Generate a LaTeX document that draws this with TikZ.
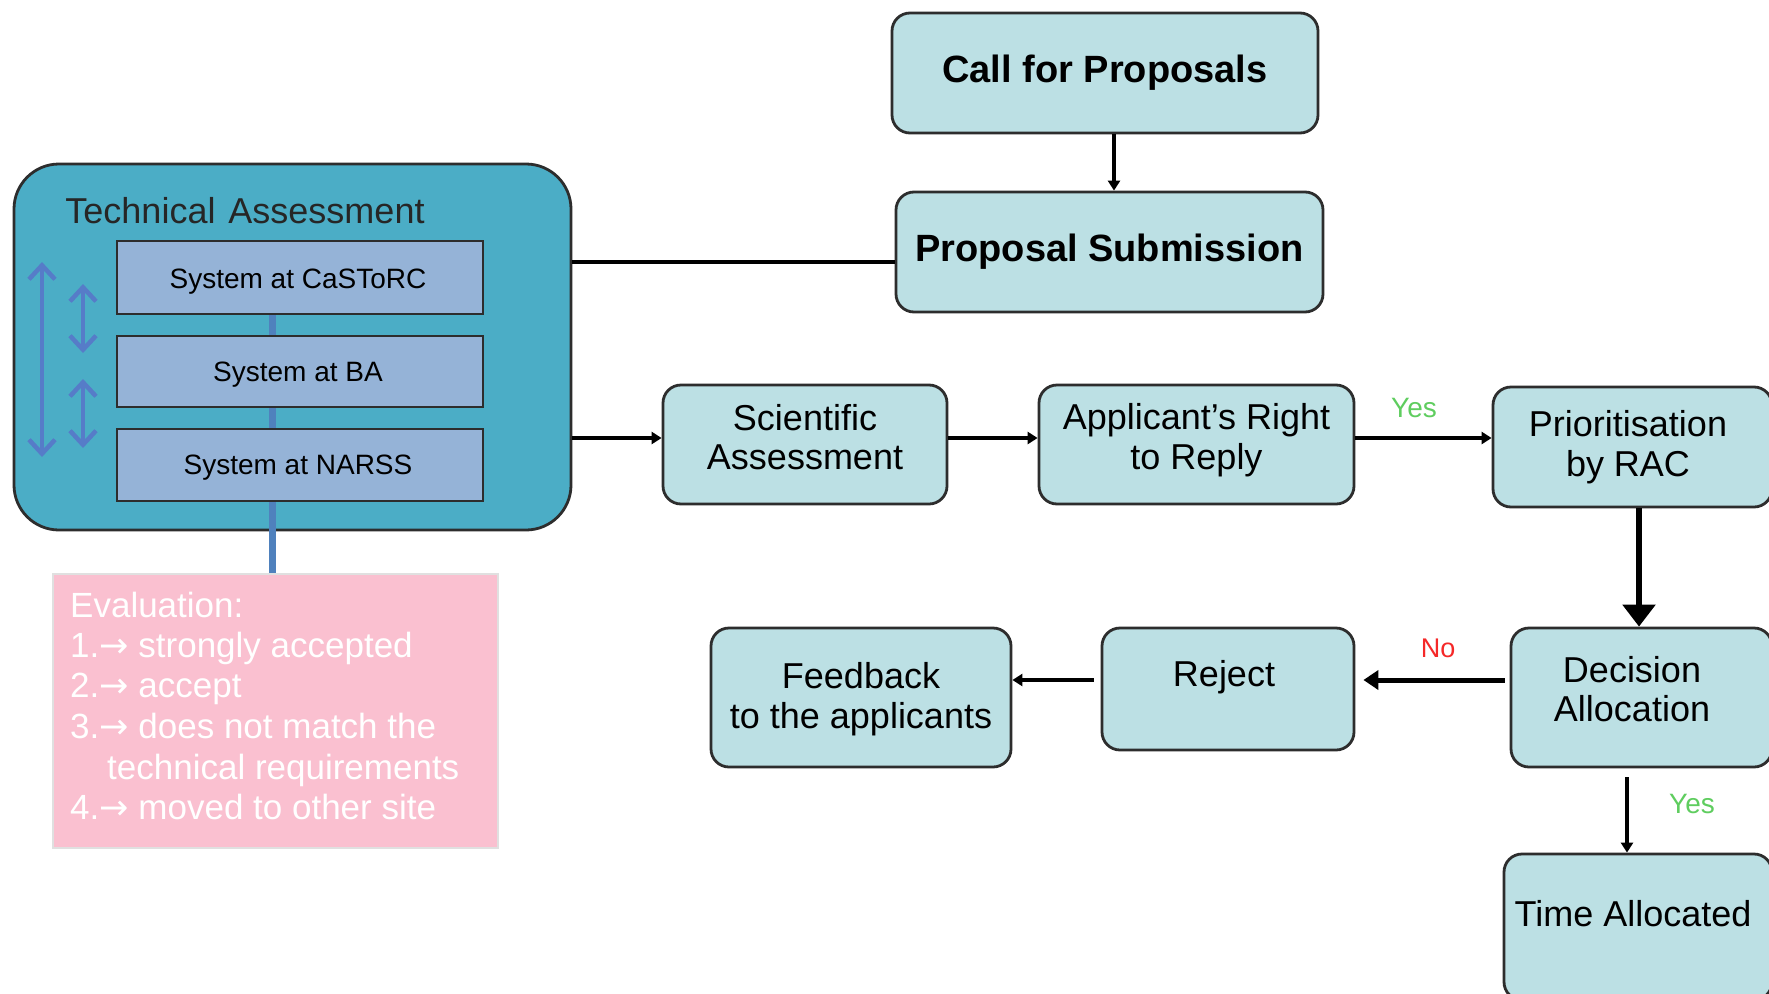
\documentclass[tikz,border=0pt]{standalone}
\usepackage{fontspec}
\setmainfont{Liberation Sans}
\newfontfamily\dvfont{DejaVu Sans}
\usetikzlibrary{arrows.meta}
\definecolor{boxfill}{RGB}{188,224,228}
\definecolor{tafill}{RGB}{75,173,198}
\definecolor{sysfill}{RGB}{149,179,215}
\definecolor{pinkfill}{RGB}{250,192,208}
\definecolor{vblue}{RGB}{79,129,189}
\definecolor{ablue}{RGB}{86,124,200}
\definecolor{yesgreen}{RGB}{95,205,95}
\definecolor{nored}{RGB}{245,40,40}
\definecolor{edge}{RGB}{45,45,45}
\tikzset{
  flow/.style={draw=edge,line width=2.8pt,fill=boxfill,rounded corners=18pt,inner sep=0pt,align=center,font=\fontsize{36}{39.5}\selectfont},
  sysbox/.style={draw=edge,line width=2.6pt,fill=sysfill,inner sep=0pt,minimum width=366pt},
  systext/.style={inner sep=0pt,font=\fontsize{28}{32}\selectfont},
  flowtext/.style={inner sep=0pt,align=center,font=\fontsize{36}{39.5}\selectfont},
  conn/.style={line width=3.2pt,-{Triangle[length=10pt,width=12pt]}},
  bigconn/.style={line width=6pt,-{Triangle[length=22pt,width=32pt]}},
  midconn/.style={line width=5pt,-{Triangle[length=15pt,width=19pt]}},
  dbl/.style={draw=ablue,line width=4.5pt,{Straight Barb[length=14pt,width=26pt]}-{Straight Barb[length=14pt,width=26pt]}},
  evtext/.style={anchor=base west,inner sep=0pt,text=white,font=\fontsize{35}{40}\selectfont},
  yes/.style={text=yesgreen,font=\fontsize{28}{32}\selectfont,inner sep=0pt},
  nolab/.style={text=nored,font=\fontsize{27}{32}\selectfont,inner sep=0pt}
}
\begin{document}
\begin{tikzpicture}[x=1pt,y=-1pt]
\useasboundingbox (0,0) rectangle (1769,993);
\clip (0,0) rectangle (1769,993);
\fill[white] (0,0) rectangle (1769,993);

% Technical assessment container
\node[draw=edge,line width=2.8pt,fill=tafill,rounded corners=45pt,minimum width=557pt,minimum height=366pt,inner sep=0pt] (ta) at (292.5,347) {};
\node[inner sep=0pt,font=\fontsize{36}{40}\selectfont,text=black!85] (tatitle) at (245,211) {Technical\hspace{13pt}Assessment};

% pink evaluation box
\node[draw=black!12,line width=1.5pt,fill=pinkfill,minimum width=445pt,minimum height=274pt,inner sep=0pt] (eval) at (275.5,711) {};

% blue vertical line and system boxes
\coordinate (lx) at (272,0);
\node[sysbox,minimum height=73pt] (s1) at (300,277.5) {};
\draw[vblue,line width=7pt] (s1.south -| lx) -- (eval.north -| lx);
\node[sysbox,minimum height=71pt] (s2) at (300,371.5) {};
\node[sysbox,minimum height=72pt] (s3) at (300,465) {};
\node[systext] (s1t) at (298,282) {System at CaSToRC};
\node[systext] (s2t) at (298,375) {System at BA};
\node[systext] (s3t) at (298,468) {System at NARSS};

% double arrows
\coordinate (la1) at (42,262);
\coordinate (la2) at (42,457);
\coordinate (sa1) at (83,284);
\coordinate (sa2) at (83,353);
\coordinate (sb1) at (83,379);
\coordinate (sb2) at (83,448);
\draw[dbl] (la1) -- (la2);
\draw[dbl] (sa1) -- (sa2);
\draw[dbl] (sb1) -- (sb2);

% evaluation text
\node[evtext] (e0) at (70,617) {Evaluation:};
\node[evtext] (e1) at (70,657) {1.{\dvfont→} strongly accepted};
\node[evtext] (e2) at (70,697) {2.{\dvfont→} accept};
\node[evtext] (e3) at (70,738) {3.{\dvfont→} does not match the};
\node[evtext] (e4) at (107,779) {technical requirements};
\node[evtext] (e5) at (70,819) {4.{\dvfont→} moved to other site};

% flow boxes
\node[flow,minimum width=426pt,minimum height=120pt,font=\bfseries\fontsize{38}{42}\selectfont] (call) at (1105,73) {Call for Proposals};
\node[flow,minimum width=427pt,minimum height=120pt,font=\bfseries\fontsize{38}{42}\selectfont] (sub) at (1109.5,252) {Proposal Submission};
\node[flow,minimum width=284pt,minimum height=119pt] (sci) at (805,444.5) {};
\node[flowtext] (scit) at (805,437) {Scientific\\Assessment};
\node[flow,minimum width=315pt,minimum height=119pt] (arr) at (1196.5,444.5) {};
\node[flowtext] (arrt) at (1196.5,440) {Applicant's Right\\to Reply};
\node[flow,minimum width=279pt,minimum height=120pt] (prio) at (1632.5,447) {};
\node[flowtext] (priot) at (1628,447) {Prioritisation\\by RAC};
\node[flow,minimum width=261pt,minimum height=139pt] (dec) at (1641.5,697.5) {};
\node[flowtext] (dect) at (1632,689) {Decision\\Allocation};
\node[flow,minimum width=252pt,minimum height=122pt] (rej) at (1228,689) {};
\node[flowtext] (rejt) at (1224,677) {Reject};
\node[flow,minimum width=300pt,minimum height=139pt] (fb) at (861,697.5) {};
\node[flowtext] (fbt) at (861,699) {Feedback\\to the applicants};
\node[flow,minimum width=268pt,minimum height=146pt] (time) at (1638,927) {};
\node[flowtext] (timet) at (1633,914) {Time Allocated};

% connectors
\coordinate (y1) at (0,262);
\coordinate (y2) at (0,438);
\coordinate (y3) at (0,680);
\coordinate (xc) at (1114,0);
\coordinate (xp) at (1639,0);
\coordinate (xd) at (1627,0);
\draw[conn] (call.south -| xc) -- (sub.north -| xc);
\draw[line width=3.2pt] (ta.east |- y1) -- (sub.west |- y1);
\draw[conn] (ta.east |- y2) -- (sci.west |- y2);
\draw[conn] (sci.east |- y2) -- (arr.west |- y2);
\draw[conn] (arr.east |- y2) -- (prio.west |- y2);
\draw[bigconn] (prio.south -| xp) -- (dec.north -| xp);
\draw[midconn] ([xshift=-5pt]dec.west |- y3) -- ([xshift=8pt]rej.east |- y3);
\draw[conn] ([xshift=-7pt]rej.west |- y3) -- (fb.east |- y3);
\draw[conn] ([yshift=-9pt]dec.south -| xd) -- (time.north -| xd);

% labels
\node[yes] (yes1) at (1414,408) {Yes};
\node[yes] (yes2) at (1692,804) {Yes};
\node[nolab] (no1) at (1438,648) {No};
\end{tikzpicture}
\end{document}
